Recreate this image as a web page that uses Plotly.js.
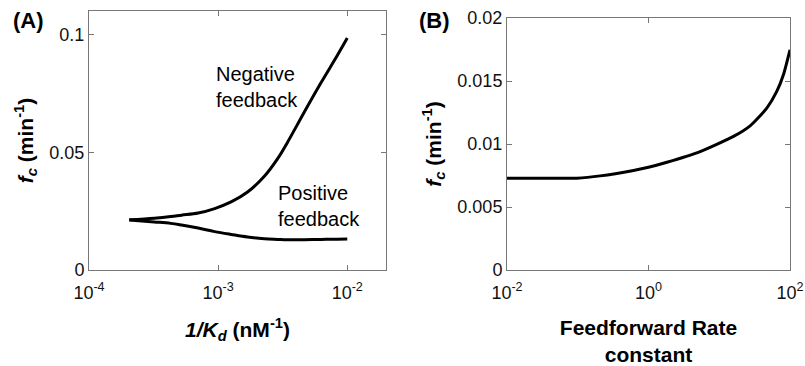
<!DOCTYPE html>
<html>
<head>
<meta charset="utf-8">
<script src="https://cdn.plot.ly/plotly-3.0.1.min.js"></script>
<style>html,body{margin:0;padding:0;background:#fff;}#chart{width:805px;height:366px;}</style>
</head>
<body>
<div id="chart"></div>
<script>
// Panel A data: 1/Kd (nM^-1) vs fc (min^-1)
const invKd = [2.05e-4, 3.2e-4, 4.3e-4, 5.2e-4, 7e-4, 9.4e-4, 1.26e-3, 1.69e-3, 2.28e-3, 2.89e-3, 3.45e-3, 4.64e-3, 6.24e-3, 8.39e-3, 1e-2];
const fcNegative = [0.0213, 0.0220, 0.0227, 0.0233, 0.0242, 0.0261, 0.0289, 0.0331, 0.0398, 0.0473, 0.0543, 0.0670, 0.0794, 0.0912, 0.0985];
const fcPositive = [0.0212, 0.0204, 0.0198, 0.0191, 0.0178, 0.0163, 0.0151, 0.0140, 0.0133, 0.0130, 0.0128, 0.0129, 0.0130, 0.0131, 0.0132];

// Panel B data: feedforward rate constant vs fc (min^-1)
const ffRate = [0.01, 0.05, 0.097, 0.208, 0.614, 1, 1.82, 5.37, 15.9, 27.3, 47, 65, 80.7, 100];
const fcB = [0.00728, 0.00728, 0.00729, 0.00747, 0.0079, 0.00815, 0.00855, 0.0094, 0.0106, 0.01144, 0.01285, 0.01417, 0.0155, 0.01748];

// Tick labels
const xTickValsA = [1e-4, 1e-3, 1e-2];
const xTickTextA = ['10<sup>-4</sup>', '10<sup>-3</sup>', '10<sup>-2</sup>'];
const yTickValsA = [0, 0.05, 0.1];
const yTickTextA = ['0', '0.05', '0.1'];
const xTickValsB = [1e-2, 1, 1e2];
const xTickTextB = ['10<sup>-2</sup>', '10<sup>0</sup>', '10<sup>2</sup>'];
const yTickValsB = [0, 0.005, 0.01, 0.015, 0.02];
const yTickTextB = ['0', '0.005', '0.01', '0.015', '0.02'];

const minorA = [];
for (let d = -4; d <= -2; d++) for (let k = 2; k <= 9; k++) minorA.push(k * Math.pow(10, d));

const lineStyle = {color: '#000', width: 3, shape: 'spline', smoothing: 1.0};
const traces = [
  {x: invKd, y: fcNegative, xaxis: 'x', yaxis: 'y', mode: 'lines', line: lineStyle, name: 'Negative feedback', showlegend: false},
  {x: invKd, y: fcPositive, xaxis: 'x', yaxis: 'y', mode: 'lines', line: lineStyle, name: 'Positive feedback', showlegend: false},
  {x: ffRate, y: fcB, xaxis: 'x2', yaxis: 'y2', mode: 'lines', line: Object.assign({}, lineStyle, {smoothing: 0.6}), name: 'fc', showlegend: false}
];

const FONT = 'Liberation Sans, Arial, sans-serif';
const tickFont = {family: FONT, size: 18, color: '#111'};
const titleFont = {family: FONT, size: 21, color: '#000'};
const axisCommon = {showgrid: false, zeroline: false, showline: true, linecolor: '#777', linewidth: 1,
  mirror: 'ticks', ticks: 'inside', ticklen: 5, tickcolor: '#777', tickfont: tickFont, tickmode: 'array'};

const domXA = [89/805, 386/805];
const layout = {
  width: 805, height: 366,
  margin: {l: 0, r: 0, t: 0, b: 0},
  paper_bgcolor: '#fff', plot_bgcolor: '#fff',
  showlegend: false,
  xaxis: Object.assign({}, axisCommon, {
    type: 'log', domain: domXA, range: [-4, -1.7], anchor: 'y',
    tickvals: xTickValsA, ticktext: xTickTextA, ticklabelstandoff: 6,
    title: {text: '<b><i>1/K<sub>d</sub></i> (nM<sup>-1</sup>)</b>', font: titleFont, standoff: 20}
  }),
  xaxis3: Object.assign({}, axisCommon, {
    type: 'log', domain: domXA, range: [-4, -1.7], anchor: 'y', overlaying: 'x',
    tickvals: minorA, ticklen: 3, showticklabels: false
  }),
  yaxis: Object.assign({}, axisCommon, {
    domain: [1 - 270/366, 1 - 11/366], range: [0, 0.11], anchor: 'x',
    tickvals: yTickValsA, ticktext: yTickTextA,
    title: {text: '<b><i>f<sub>c</sub></i> (min<sup>-1</sup>)</b>', font: titleFont, standoff: 10}
  }),
  xaxis2: Object.assign({}, axisCommon, {
    type: 'log', domain: [507/805, 790/805], range: [-2, 2], anchor: 'y2',
    tickvals: xTickValsB, ticktext: xTickTextB, ticklabelstandoff: 6,
    title: {text: '<b>Feedforward Rate<br>constant</b>', font: titleFont, standoff: 20}
  }),
  yaxis2: Object.assign({}, axisCommon, {
    domain: [1 - 270/366, 1 - 18/366], range: [0, 0.02], anchor: 'x2',
    tickvals: yTickValsB, ticktext: yTickTextB,
    title: {text: '<b><i>f<sub>c</sub></i> (min<sup>-1</sup>)</b>', font: titleFont, standoff: 10}
  }),
  annotations: [
    {text: '<b>(A)</b>', xref: 'paper', yref: 'paper', x: 28/805, y: 1 - 21/366, showarrow: false,
     font: {family: FONT, size: 22, color: '#000'}, xanchor: 'center', yanchor: 'middle'},
    {text: '<b>(B)</b>', xref: 'paper', yref: 'paper', x: 434/805, y: 1 - 21/366, showarrow: false,
     font: {family: FONT, size: 22, color: '#000'}, xanchor: 'center', yanchor: 'middle'},
    {text: 'Negative<br>feedback', xref: 'x', yref: 'y', x: -3.03, y: 0.0776, showarrow: false, align: 'left',
     font: {family: FONT, size: 20, color: '#000'}, xanchor: 'left', yanchor: 'middle'},
    {text: 'Positive<br>feedback', xref: 'x', yref: 'y', x: -2.55, y: 0.0273, showarrow: false, align: 'left',
     font: {family: FONT, size: 20, color: '#000'}, xanchor: 'left', yanchor: 'middle'}
  ]
};

Plotly.newPlot('chart', traces, layout, {staticPlot: true, displayModeBar: false});
</script>
</body>
</html>
